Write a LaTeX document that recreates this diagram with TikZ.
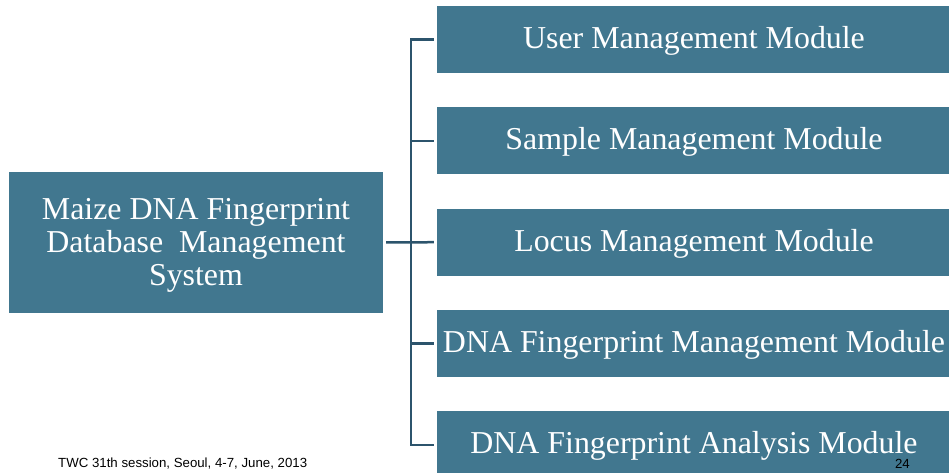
\documentclass[tikz,border=0pt]{standalone}
\usepackage{fontspec}
\setmainfont{Liberation Serif}
\newfontfamily\footerfont{Liberation Sans}
\definecolor{boxfill}{RGB}{65,119,143}
\definecolor{linkcol}{RGB}{44,84,108}

\begin{document}
\begin{tikzpicture}[x=1bp,y=-1bp,
  box/.style={fill=boxfill, text=white, inner sep=0pt,
              font=\fontsize{32}{33.5}\selectfont},
  rootbox/.style={box, minimum width=374bp, minimum height=141bp, align=center,
                  text depth=1bp},
  modbox/.style={box, minimum width=514bp, minimum height=67bp,
                 text height=20bp, text depth=2bp},
  link/.style={draw=linkcol, line width=2.5bp},
  footer/.style={inner sep=0pt, text=black,
                 font=\footerfont\fontsize{13.3}{15}\selectfont}]
\useasboundingbox (0,0) rectangle (949,473);
\clip (0,0) rectangle (949,473);

% system box on the left
\node[rootbox] (root) at (196,242.5)
  {Maize DNA Fingerprint\\Database\ \ Management\\System};

% module boxes on the right
\node[modbox] (m1) at (694,39.5)  {User Management Module};
\node[modbox] (m2) at (694,140.8) {Sample Management Module};
\node[modbox] (m3) at (694,242.2) {Locus Management Module};
\node[modbox] (m4) at (694,343.5) {DNA Fingerprint Management Module};
\node[modbox] (m5) at (694,444.8) {DNA Fingerprint Analysis Module};

% tree connector: trunk with a branch to each module
\coordinate (trunk) at (411,242.2);
\draw[link, shorten <=3bp, shorten >=3bp] (m1.west) -- (trunk |- m1.west)
  -- (trunk |- m5.west) -- (m5.west);
\foreach \m in {m2,m3,m4}
  \draw[link, shorten <=3bp] (\m.west) -- (trunk |- \m.west);
\draw[link, shorten <=3bp, shorten >=3bp] (root.east) -- (m3.west);

% footer
\node[footer, anchor=base west] (foot) at (58,467)
  {TWC 31th session, Seoul, 4-7, June, 2013};
\node[footer, anchor=base east] (page) at (910,468) {24};
\end{tikzpicture}
\end{document}
